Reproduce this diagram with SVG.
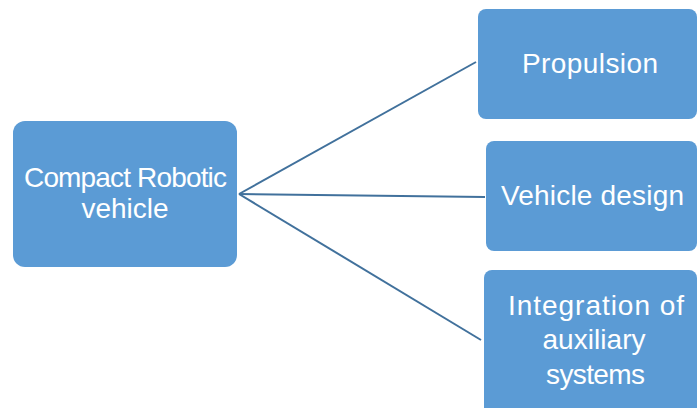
<svg xmlns="http://www.w3.org/2000/svg" width="698" height="408" viewBox="0 0 698 408">
<style>
.box{fill:#5B9BD5;}
.lbl{font-family:"Liberation Sans",Arial,sans-serif;font-size:28px;fill:#FFFFFF;text-anchor:middle;}
.con{stroke:#41719C;stroke-width:2;fill:none;}
</style>
<rect width="698" height="408" fill="#FFFFFF"/>
<g id="connectors">
<line class="con" x1="239" y1="194" x2="476" y2="62"/>
<line class="con" x1="239" y1="194" x2="485" y2="197"/>
<line class="con" x1="239" y1="194" x2="481" y2="340"/>
</g>
<g id="compact">
<rect class="box" x="13" y="121" width="224" height="146" rx="12"/>
<text class="lbl" x="125.5" y="187" textLength="203" lengthAdjust="spacing">Compact Robotic</text>
<text class="lbl" x="125" y="218">vehicle</text>
</g>
<g id="propulsion">
<rect class="box" x="478" y="9" width="219" height="110" rx="8"/>
<text class="lbl" x="590" y="73" textLength="136" lengthAdjust="spacing">Propulsion</text>
</g>
<g id="vehicle-design">
<rect class="box" x="486" y="141" width="211" height="110" rx="8"/>
<text class="lbl" x="592.5" y="205" textLength="183" lengthAdjust="spacing">Vehicle design</text>
</g>
<g id="integration">
<rect class="box" x="484" y="270" width="213" height="150" rx="8"/>
<text class="lbl" x="596" y="315" textLength="176" lengthAdjust="spacing">Integration of</text>
<text class="lbl" x="594" y="349" textLength="103" lengthAdjust="spacing">auxiliary</text>
<text class="lbl" x="595.5" y="384" textLength="99" lengthAdjust="spacing">systems</text>
</g>
</svg>
